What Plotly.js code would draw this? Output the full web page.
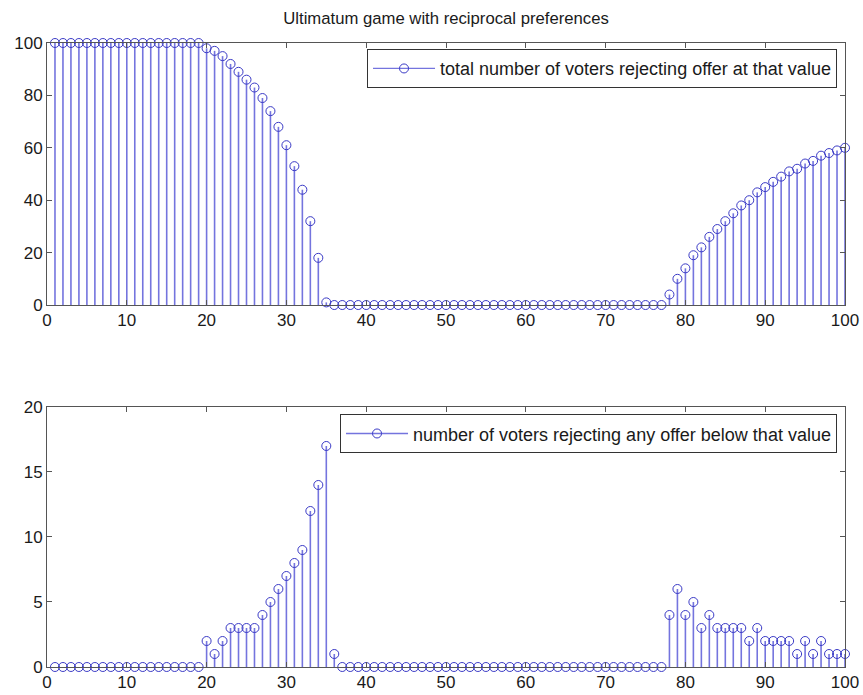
<!DOCTYPE html>
<html>
<head>
<meta charset="utf-8">
<script src="https://cdn.plot.ly/plotly-3.0.1.min.js"></script>
<style>html,body{margin:0;padding:0;background:#fff;}#chart{width:863px;height:695px;}</style>
</head>
<body>
<div id="chart"></div>
<script>
// Offer values (x categories)
const offers = [1,2,3,4,5,6,7,8,9,10,11,12,13,14,15,16,17,18,19,20,
  21,22,23,24,25,26,27,28,29,30,31,32,33,34,35,36,37,38,39,40,
  41,42,43,44,45,46,47,48,49,50,51,52,53,54,55,56,57,58,59,60,
  61,62,63,64,65,66,67,68,69,70,71,72,73,74,75,76,77,78,79,80,
  81,82,83,84,85,86,87,88,89,90,91,92,93,94,95,96,97,98,99,100];

// Top panel: total number of voters rejecting offer at that value
const rejectingAtValue = [
  100,100,100,100,100,100,100,100,100,100,100,100,100,100,100,100,100,100,100,
  98,97,95,92,89,86,83,79,74,68,61,53,44,32,18,1,
  0,0,0,0,0,0,0,0,0,0,0,0,0,0,0,0,0,0,0,0,0,0,0,0,0,0,0,0,0,0,0,0,0,0,0,0,0,0,0,0,0,0,
  4,10,14,19,22,26,29,32,35,38,40,43,45,47,49,51,52,54,55,57,58,59,60];

// Bottom panel: number of voters rejecting any offer below that value
const rejectingBelow = [
  0,0,0,0,0,0,0,0,0,0,0,0,0,0,0,0,0,0,0,
  2,1,2,3,3,3,3,4,5,6,7,8,9,12,14,17,1,
  0,0,0,0,0,0,0,0,0,0,0,0,0,0,0,0,0,0,0,0,0,0,0,0,0,0,0,0,0,0,0,0,0,0,0,0,0,0,0,0,0,
  4,6,4,5,3,4,3,3,3,3,2,3,2,2,2,2,1,2,1,2,1,1,1];

const xTicks = [0,10,20,30,40,50,60,70,80,90,100];
const yTicksTop = [0,20,40,60,80,100];
const yTicksBottom = [0,5,10,15,20];

const titleText = 'Ultimatum game with reciprocal preferences';
const legendTop = 'total number of voters rejecting offer at that value';
const legendBottom = 'number of voters rejecting any offer below that value';

const stemColor = '#7474de';
const markColor = '#3a3ac6';
const FONT = '"Liberation Sans", Arial, sans-serif';

function stemTrace(vals, xa, ya) {
  return {
    type: 'scatter', mode: 'markers', x: offers, y: vals, xaxis: xa, yaxis: ya,
    showlegend: false, cliponaxis: false, hoverinfo: 'x+y',
    marker: {symbol: 'circle-open', size: 9, color: markColor, line: {color: markColor, width: 1}},
    error_y: {type: 'data', symmetric: false, array: vals.map(() => 0), arrayminus: vals,
              width: 0, color: stemColor, thickness: 1.6}
  };
}
function legendTrace(name, xa, ya, lg) {
  return {
    type: 'scatter', mode: 'lines+markers', x: [null], y: [null], xaxis: xa, yaxis: ya,
    name: name, legend: lg, showlegend: true,
    line: {color: stemColor, width: 1.3},
    marker: {symbol: 'circle-open', size: 9, color: markColor, line: {color: markColor, width: 1}}
  };
}

const data = [
  stemTrace(rejectingAtValue, 'x', 'y'),
  stemTrace(rejectingBelow, 'x2', 'y2'),
  legendTrace(legendTop, 'x', 'y', 'legend'),
  legendTrace(legendBottom, 'x2', 'y2', 'legend2')
];

const axisBase = {
  showline: true, linecolor: '#555', linewidth: 1, mirror: 'ticks',
  ticks: 'inside', ticklen: 5, tickcolor: '#555', tickwidth: 1,
  showgrid: false, zeroline: false, fixedrange: true,
  tickfont: {family: FONT, size: 17, color: '#1a1a1a'}
};

const legendBase = {
  xanchor: 'right', yanchor: 'top', xref: 'paper', yref: 'paper',
  bgcolor: '#fff', bordercolor: '#333', borderwidth: 1, itemwidth: 62,
  font: {family: FONT, size: 18, color: '#1a1a1a'}
};

const layout = {
  width: 863, height: 695,
  paper_bgcolor: '#fff', plot_bgcolor: '#fff',
  margin: {l: 47, r: 18, t: 43, b: 28},
  font: {family: FONT, color: '#1a1a1a'},
  title: {text: titleText, font: {family: FONT, size: 16.7, color: '#1a1a1a'},
          x: 0.5, xref: 'paper', xanchor: 'center', y: 1 - 18/695, yref: 'container', yanchor: 'middle'},
  xaxis: Object.assign({}, axisBase, {domain: [0, 1], range: [0, 100], tickvals: xTicks, ticktext: xTicks.map(String), anchor: 'y'}),
  yaxis: Object.assign({}, axisBase, {domain: [0.5801, 1], range: [0, 100], tickvals: yTicksTop, ticktext: yTicksTop.map(String), anchor: 'x'}),
  xaxis2: Object.assign({}, axisBase, {domain: [0, 1], range: [0, 100], tickvals: xTicks, ticktext: xTicks.map(String), anchor: 'y2'}),
  yaxis2: Object.assign({}, axisBase, {domain: [0, 0.4167], range: [0, 20], tickvals: yTicksBottom, ticktext: yTicksBottom.map(String), anchor: 'x2'}),
  legend: Object.assign({}, legendBase, {x: 0.99, y: 0.99}),
  legend2: Object.assign({}, legendBase, {x: 0.99, y: 0.405}),
  showlegend: true
};

Plotly.newPlot('chart', data, layout, {displayModeBar: false, staticPlot: true});
</script>
</body>
</html>
